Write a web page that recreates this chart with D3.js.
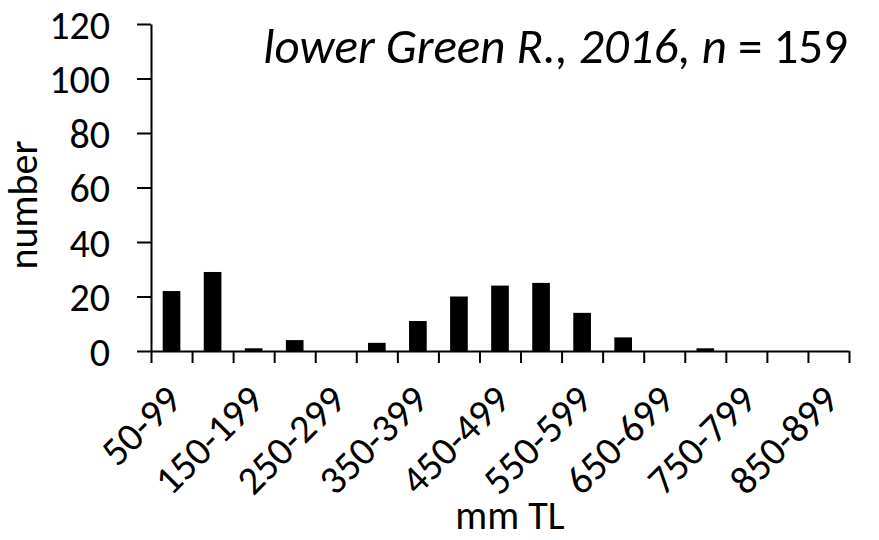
<!DOCTYPE html>
<html><head><meta charset="utf-8">
<script src="https://cdn.jsdelivr.net/npm/d3@7"></script>
<style>
html,body{margin:0;padding:0;background:#fff;}
text{font-family:Carlito,"Open Sans",sans-serif;fill:#000;}
</style></head>
<body><svg id="c" width="879" height="540"></svg>
<script>
const categories = ["50-99","100-149","150-199","200-249","250-299","300-349","350-399","400-449","450-499","500-549","550-599","600-649","650-699","700-749","750-799","800-849","850-899"];
const counts = [22,29,1,4,0,3,11,20,24,25,14,5,0,1,0,0,0];
const yTicks = [0,20,40,60,80,100,120];
const shownLabels = ["50-99","150-199","250-299","350-399","450-499","550-599","650-699","750-799","850-899"];
const titleMain = "lower Green R., 2016, ";
const titleN = "n";
const titleRest = " = 159";
const xTitle = "mm TL";
const yTitle = "number";

const svg = d3.select("#c");
const L = 151, R = 849, T = 24, B = 351;
const fs = 40;

const y = d3.scaleLinear().domain([0,120]).range([B,T]);
const xb = d3.scaleBand().domain(categories).range([L,R]).paddingInner(0.57).paddingOuter(0.285);
const xe = d3.scaleLinear().domain([0,categories.length]).range([L,R]);

// bars
svg.append("g").selectAll("rect").data(categories).join("rect")
  .attr("x", d => xb(d))
  .attr("width", xb.bandwidth())
  .attr("y", (d,i) => y(counts[i]))
  .attr("height", (d,i) => B - y(counts[i]))
  .attr("fill", "#000");

// y axis
const ya = svg.append("g").attr("transform", `translate(${L},0)`)
  .call(d3.axisLeft(y).tickValues(yTicks).tickSizeInner(14).tickSizeOuter(0).tickPadding(27));
ya.select(".domain").attr("stroke","#000").attr("stroke-width",2);
ya.selectAll(".tick line").attr("stroke","#000").attr("stroke-width",2);
ya.selectAll(".tick text").attr("font-size", fs).attr("font-family", null).attr("dy","0.35em");

// x axis
const xa = svg.append("g").attr("transform", `translate(0,${B})`)
  .call(d3.axisBottom(xe).tickValues(d3.range(categories.length+1)).tickFormat("").tickSizeInner(12).tickSizeOuter(0));
xa.select(".domain").attr("stroke","#000").attr("stroke-width",2);
xa.selectAll(".tick line").attr("stroke","#000").attr("stroke-width",2);

// x labels
svg.append("g").selectAll("text").data(shownLabels).join("text")
  .attr("transform", d => `translate(${xb(d) + xb.bandwidth()/2 - 8},${B + 31}) rotate(-45)`)
  .attr("text-anchor","end")
  .attr("dy","0.71em")
  .attr("font-size", fs)
  .text(d => d);

// axis titles
svg.append("text").attr("x", 510).attr("y", 529).attr("text-anchor","middle").attr("font-size", fs).text(xTitle);
svg.append("text").attr("transform", `translate(37,205) rotate(-90)`).attr("text-anchor","middle").attr("font-size", fs).text(yTitle);

// chart title
const t = svg.append("text").attr("x", 848).attr("y", 63).attr("text-anchor","end").attr("font-size", 49);
t.append("tspan").attr("font-style","italic").text(titleMain);
t.append("tspan").attr("font-style","italic").text(titleN);
t.append("tspan").text(titleRest);
</script></body></html>
